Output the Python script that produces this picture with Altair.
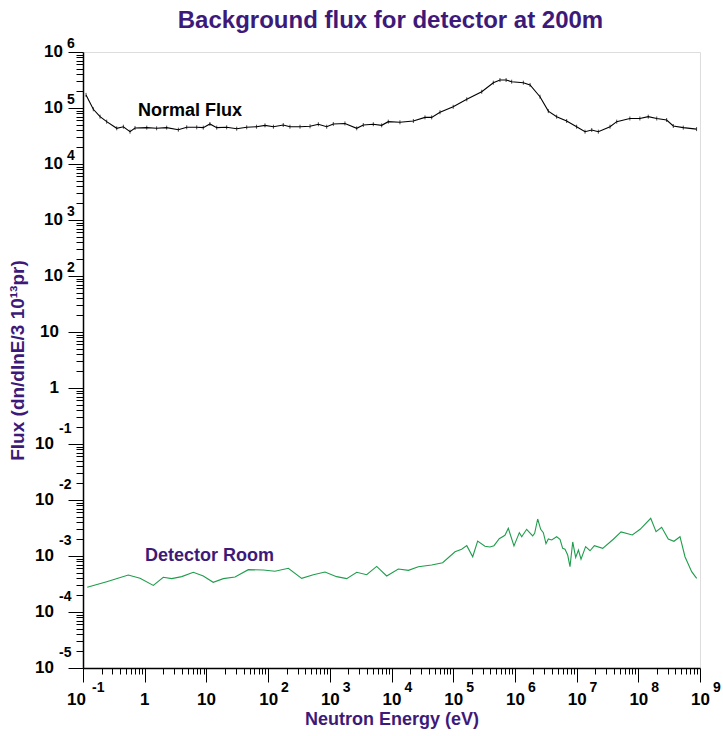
import altair as alt
import pandas as pd

# ---------------- data ----------------
title_text = "Background flux for detector at 200m"
x_title = "Neutron Energy (eV)"
y_title = "Flux (dn/dlnE/3 10¹³pr)"

normal_E = [0.112, 0.147, 0.189, 0.242, 0.352, 0.451, 0.578, 0.697, 1.08, 1.56, 2.27, 3.51,
            4.80, 6.97, 8.9, 11.4, 14.7, 21.3, 31, 45, 65, 89, 122, 176, 226, 329, 478, 652,
            891, 1140, 1760, 2730, 3490, 5070, 6930, 8870, 13700, 22600, 34900, 44800, 61100,
            1.0e5, 1.66e5, 2.9e5, 4.47e5, 5.73e5, 7.2e5, 8.87e5, 1.37e6, 1.76e6, 2.55e6,
            3.48e6, 4.75e6, 6.9e6, 1.0e7, 1.37e7, 1.76e7, 2.25e7, 3.48e7, 4.47e7, 7.3e7,
            1.06e8, 1.45e8, 1.99e8, 2.88e8, 3.69e8, 5.36e8, 8.8e8]
normal_F = [1.71e5, 9.5e4, 7.0e4, 5.7e4, 4.34e4, 4.63e4, 3.78e4, 4.4e4, 4.46e4, 4.34e4, 4.46e4, 4.1e4,
            4.52e4, 4.52e4, 4.46e4, 5.18e4, 4.46e4, 4.52e4, 4.27e4, 4.52e4, 4.63e4, 4.9e4, 4.63e4,
            4.97e4, 4.63e4, 4.63e4, 4.71e4, 5.13e4, 4.63e4, 5.18e4, 5.3e4, 4.34e4, 4.97e4, 5.13e4,
            4.9e4, 5.7e4, 5.55e4, 5.86e4, 6.8e4, 6.8e4, 8.4e4,
            1.05e5, 1.43e5, 1.95e5, 2.83e5, 3.16e5, 3.16e5, 2.95e5, 2.83e5, 2.58e5, 1.59e5,
            8.8e4, 7.0e4, 5.86e4, 4.63e4, 3.78e4, 4.05e4, 3.78e4, 4.63e4, 5.7e4, 6.5e4,
            6.5e4, 7.0e4, 6.5e4, 6.1e4, 4.77e4, 4.46e4, 4.2e4]

room_E = [0.117, 0.242, 0.542, 0.84, 1.38, 2.0, 2.74, 3.98, 6.14, 8.9, 12.9, 18.8, 29.1, 47.8,
          83.6, 129, 213, 350, 541, 836, 1290, 1880, 2730, 3960, 5750, 8360, 12900,
          18800, 27200, 44800, 67400, 1.07e5, 1.37e5, 1.66e5, 2.07e5, 2.49e5, 3.27e5, 3.94e5,
          4.58e5, 5.58e5, 6.9e5, 7.82e5, 9.66e5, 1.18e6, 1.29e6, 1.55e6, 1.94e6, 2.09e6,
          2.34e6, 2.62e6, 2.89e6, 3.19e6, 3.48e6, 3.95e6, 4.75e6, 5.38e6, 5.95e6, 6.49e6,
          7.17e6, 7.82e6, 8.65e6, 9.66e6, 1.07e7, 1.18e7, 1.4e7, 1.65e7, 1.94e7, 2.65e7,
          3.94e7, 5.25e7, 8.0e7, 1.07e8, 1.59e8, 1.94e8, 2.39e8, 3.06e8, 3.78e8, 4.74e8,
          5.71e8, 7.33e8, 8.83e8]
room_F = [2.76e-4, 3.48e-4, 4.58e-4, 3.99e-4, 2.99e-4, 4.16e-4, 3.94e-4, 4.28e-4, 5.12e-4, 4.4e-4,
          3.39e-4, 3.94e-4, 4.22e-4, 5.7e-4, 5.62e-4, 5.33e-4, 6.03e-4, 3.99e-4, 4.64e-4, 5.18e-4,
          4.28e-4, 3.94e-4, 5.12e-4, 4.64e-4, 6.53e-4, 4.4e-4, 5.86e-4,
          5.55e-4, 6.45e-4, 6.9e-4, 7.6e-4, 1.19e-3, 1.32e-3, 1.53e-3, 9.7e-4, 1.85e-3, 1.49e-3, 1.45e-3,
          1.53e-3, 2.04e-3, 2.34e-3, 3.12e-3, 1.51e-3, 2.61e-3, 2.21e-3, 3.0e-3, 2.28e-3, 2.54e-3,
          4.58e-3, 3.0e-3, 2.61e-3, 1.66e-3, 2.01e-3, 1.93e-3, 2.21e-3, 1.99e-3, 1.37e-3, 1.32e-3,
          1.04e-3, 6.45e-4, 1.78e-3, 9.46e-4, 1.28e-3, 8.8e-4, 1.47e-3, 1.24e-3, 1.53e-3, 1.37e-3,
          1.99e-3, 2.69e-3, 2.37e-3, 3.0e-3, 4.71e-3, 2.72e-3, 3.25e-3, 2.01e-3, 1.83e-3, 2.21e-3,
          9.7e-4, 5.25e-4, 3.99e-4]

series_names = ["Normal Flux", "Detector Room"]
annot_text = ["Normal Flux", "Detector Room"]
annot_E = [0.78, 1.01]
annot_F = [8.8e4, 9.8e-4]

x_dec_exps = list(range(-1, 10))
y_dec_exps = list(range(-5, 7))

# ---------------- style ----------------
W, H = 617, 616
PURPLE = "#3d1a7a"
GREEN = "#1f9d4c"
FONT = "Liberation Sans"
BASE_FS = 17
EXP_FS = 14

xs = alt.Scale(type="log", domain=[0.1, 1e9], nice=False)
ys = alt.Scale(type="log", domain=[1e-5, 1e6], nice=False)

major_test = "abs(log(datum.value)/LN10 - round(log(datum.value)/LN10)) < 0.001"
x_ticks = [m * 10.0 ** k for k in range(-1, 9) for m in range(1, 10)] + [1e9]
y_ticks = [m * 10.0 ** k for k in range(-5, 6) for m in range(1, 10)] + [1e6]

x_axis = alt.Axis(values=x_ticks, labels=False, grid=False,
                  tickSize={"condition": {"test": major_test, "value": 14}, "value": 6},
                  tickColor="black", tickWidth=1, domainColor="black", domainWidth=1.5,
                  title=x_title, titleFont=FONT, titleFontSize=18, titleFontWeight="bold",
                  titleColor=PURPLE, titleX=W / 2, titleY=51, titleAlign="center",
                  titleBaseline="middle")
y_axis = alt.Axis(values=y_ticks, labels=False, grid=False,
                  tickSize={"condition": {"test": major_test, "value": 15}, "value": 7},
                  tickColor="black", tickWidth=1, domainColor="black", domainWidth=1.5,
                  title=y_title, titleFont=FONT, titleFontSize=19, titleFontWeight="bold",
                  titleColor=PURPLE, titleX=-66, titleY=H / 2, titleAngle=270,
                  titleAlign="center", titleBaseline="middle")

X = lambda f: alt.X(f, scale=xs, axis=x_axis)
Y = lambda f: alt.Y(f, scale=ys, axis=y_axis)

# ---------------- tables ----------------
rows = []
for name, Es, Fs in [(series_names[0], normal_E, normal_F), (series_names[1], room_E, room_F)]:
    for i, (e, f) in enumerate(zip(Es, Fs)):
        rows.append({"series": name, "E": e, "F": f, "i": i})
df = pd.DataFrame(rows)
df_normal = df[df.series == series_names[0]]

df_annot = pd.DataFrame({"t": annot_text, "E": annot_E, "F": annot_F})


def dec_table(exps):
    return pd.DataFrame({
        "v": [10.0 ** k for k in exps],
        "k": exps,
        "base": ["1" if k == 0 else "10" for k in exps],
        "exp": ["" if k in (0, 1) else str(k) for k in exps],
    })


xlab = dec_table(x_dec_exps)
ylab = dec_table(y_dec_exps)

color_scale = alt.Scale(domain=series_names, range=["black", GREEN])

# ---------------- layers ----------------
lines = alt.Chart(df).mark_line(strokeWidth=1.1).encode(
    x=X("E:Q"),
    y=Y("F:Q"),
    color=alt.Color("series:N", scale=color_scale, legend=None),
    detail="series:N",
    order="i:Q",
)

err_ticks = alt.Chart(df_normal).mark_point(shape="M0,-1L0,1", size=16, color="black",
                                            strokeWidth=1, filled=False).encode(
    x=X("E:Q"),
    y=Y("F:Q"),
)

annot_normal = alt.Chart(df_annot.iloc[[0]]).mark_text(
    font=FONT, fontSize=18, fontWeight="bold", align="left", baseline="middle",
    color="black").encode(x=X("E:Q"), y=Y("F:Q"), text="t:N")
annot_room = alt.Chart(df_annot.iloc[[1]]).mark_text(
    font=FONT, fontSize=18, fontWeight="bold", align="left", baseline="middle",
    color=PURPLE).encode(x=X("E:Q"), y=Y("F:Q"), text="t:N")


def xtext(data, text_field, align, dx, yoff, fs):
    return alt.Chart(data).mark_text(font=FONT, fontSize=fs, fontWeight="bold", color="black",
                                     align=align, baseline="middle", dx=dx).encode(
        x=X("v:Q"),
        y=alt.value(H + yoff),
        text=f"{text_field}:N",
    )


def ytext(data, text_field, align, xpos, dy, fs):
    return alt.Chart(data).mark_text(font=FONT, fontSize=fs, fontWeight="bold", color="black",
                                     align=align, baseline="middle", dy=dy).encode(
        x=alt.value(xpos),
        y=Y("v:Q"),
        text=f"{text_field}:N",
    )


x_plain = xlab[xlab.k.isin([0, 1])]
x_pos = xlab[xlab.k >= 2]
x_neg = xlab[xlab.k < 0]
y_plain = ylab[ylab.k.isin([0, 1])]
y_pos = ylab[ylab.k >= 2]
y_neg = ylab[ylab.k < 0]

label_layers = [
    xtext(x_plain, "base", "center", 0, 32, BASE_FS),
    xtext(x_pos, "base", "right", 10, 32, BASE_FS),
    xtext(x_pos, "exp", "left", 13, 20, EXP_FS),
    xtext(x_neg, "base", "right", 3, 32, BASE_FS),
    xtext(x_neg, "exp", "left", 9, 20, EXP_FS),
    ytext(y_plain, "base", "right", -24, 0, BASE_FS),
    ytext(y_pos, "base", "right", -20, 0, BASE_FS),
    ytext(y_pos, "exp", "left", -16, -8, EXP_FS),
    ytext(y_neg, "base", "right", -29, 0, BASE_FS),
    ytext(y_neg, "exp", "left", -24, -15, EXP_FS),
]

title_layer = alt.Chart(pd.DataFrame({"t": [title_text]})).mark_text(
    font=FONT, fontSize=24, fontWeight="bold", color=PURPLE, align="center",
    baseline="alphabetic").encode(
    x=alt.value(W / 2 - 1), y=alt.value(-24), text="t:N")

chart = alt.layer(lines, err_ticks, annot_normal, annot_room, *label_layers,
                  title_layer).properties(
    width=W, height=H,
    autosize=alt.AutoSizeParams(type="none"),
    padding={"left": 83, "top": 52, "right": 23, "bottom": 68},
).configure_view(stroke="#808080", strokeWidth=1.5).configure(background="white")

chart.save("out.html", embed_options={"renderer": "svg", "actions": False})
